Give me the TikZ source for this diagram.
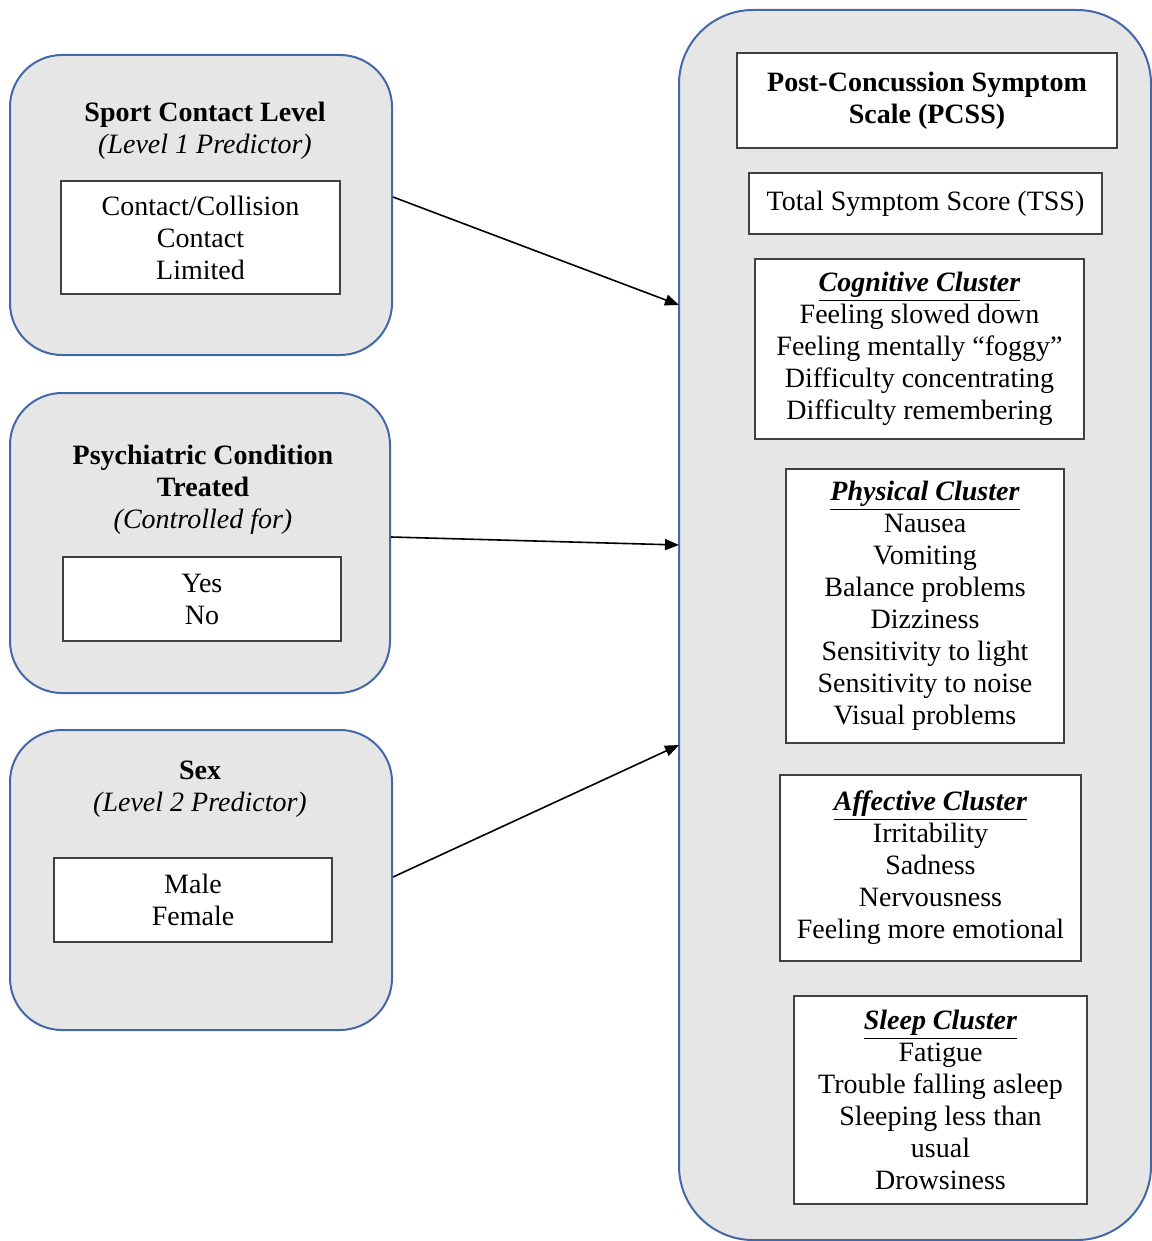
\documentclass[tikz,border=0pt]{standalone}
\usepackage{fontspec}
\setmainfont{Liberation Serif}
\usetikzlibrary{arrows.meta}
\definecolor{boxblue}{RGB}{66,104,168}
\definecolor{boxgray}{RGB}{231,230,230}
\begin{document}
\begin{tikzpicture}
[
x=0.5pt, y=-0.5pt,
font=\fontsize{14}{16}\selectfont,
obox/.style={draw=boxblue, line width=1pt, fill=boxgray, inner sep=0},
ibox/.style={draw=black!75, line width=0.6pt, fill=white, inner sep=0, align=center},
hnode/.style={align=center, inner sep=0},
arr/.style={-{Triangle[length=7pt,width=5.5pt]}, line width=0.8pt}
]
\useasboundingbox (0,0) rectangle (1151,1241);

% left side: predictors
\node[obox, rounded corners=26pt, minimum width=191pt, minimum height=150pt] (sport) at (201,205) {};
\node[obox, rounded corners=26pt, minimum width=190pt, minimum height=150pt] (psych) at (200,543) {};
\node[obox, rounded corners=26pt, minimum width=191pt, minimum height=150pt] (sex)   at (201,880) {};

\node[hnode] (sporthead) at (205,131) {\textbf{Sport Contact Level}\\\textit{(Level 1 Predictor)}};
\node[hnode] (psychhead) at (203,490) {\textbf{Psychiatric Condition}\\\textbf{Treated}\\\textit{(Controlled for)}};
\node[hnode] (sexhead)   at (200,789) {\textbf{Sex}\\\textit{(Level 2 Predictor)}};

\node[ibox, minimum width=139.5pt, minimum height=56.5pt] (sportval) at (200.5,237.5) {Contact/Collision\\Contact\\Limited};
\node[ibox, minimum width=139pt, minimum height=42pt] (psychval) at (202,599) {Yes\\No};
\node[ibox, minimum width=139pt, minimum height=42pt] (sexval)   at (193,900) {Male\\Female};

% right side: outcome
\node[obox, rounded corners=37pt, minimum width=236pt, minimum height=615pt] (scale) at (915,625) {};

\node[ibox, minimum width=190pt, minimum height=47.5pt] (pcss) at (927,100.5) {\textbf{Post-Concussion Symptom}\\\textbf{Scale (PCSS)}};
\node[ibox, minimum width=176.5pt, minimum height=30.5pt] (tss) at (925.5,203.5) {Total Symptom Score (TSS)};
\node[ibox, minimum width=164.5pt, minimum height=90pt] (cog) at (919.5,349) {\underline{\textbf{\textit{Cognitive Cluster}}}\\Feeling slowed down\\Feeling mentally “foggy”\\Difficulty concentrating\\Difficulty remembering};
\node[ibox, minimum width=139pt, minimum height=137pt] (phys) at (925,606) {\underline{\textbf{\textit{Physical Cluster}}}\\Nausea\\Vomiting\\Balance problems\\Dizziness\\Sensitivity to light\\Sensitivity to noise\\Visual problems};
\node[ibox, minimum width=150.5pt, minimum height=93pt] (aff) at (930.5,868) {\underline{\textbf{\textit{Affective Cluster}}}\\Irritability\\Sadness\\Nervousness\\Feeling more emotional};
\node[ibox, minimum width=146.5pt, minimum height=104pt] (sleep) at (940.5,1100) {\underline{\textbf{\textit{Sleep Cluster}}}\\Fatigue\\Trouble falling asleep\\Sleeping less than\\usual\\Drowsiness};

% arrows
\coordinate (t1) at (679,305);
\coordinate (t2) at (679,545);
\coordinate (t3) at (679,745);
\draw[arr] ([yshift=4pt]sport.east) -- (t1);
\draw[arr] ([yshift=3pt]psych.east) -- (t2);
\draw[arr] ([yshift=1.5pt]sex.east) -- (t3);
\end{tikzpicture}
\end{document}
